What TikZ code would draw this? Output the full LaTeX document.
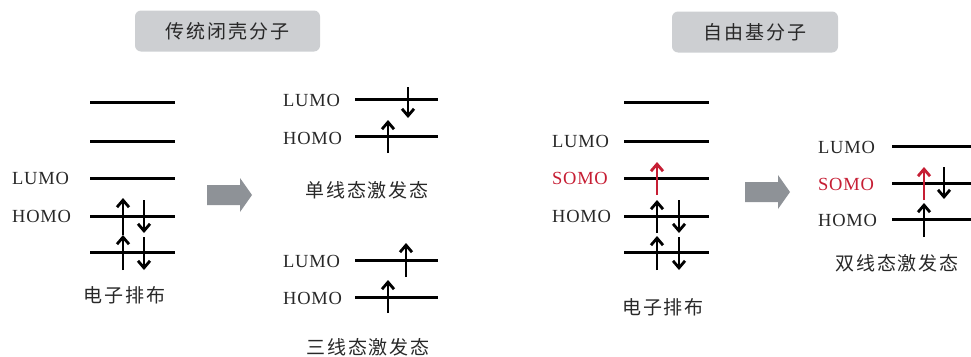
\documentclass[tikz,border=0pt]{standalone}
\usepackage{fontspec}
\setmainfont{Liberation Serif}
\newfontfamily\cjk{Noto Sans CJK SC}[LetterSpace=10]
\usetikzlibrary{arrows.meta}

\definecolor{txt}{RGB}{40,40,40}
\definecolor{somo}{RGB}{198,30,52}
\definecolor{boxgray}{RGB}{205,207,210}
\definecolor{arrowgray}{RGB}{142,146,151}

\tikzset{
  level/.style={line width=3pt},
  spin/.style={line width=2.6pt,-{Straight Barb[length=7pt,width=12pt,line width=2.8pt]}},
  redspin/.style={spin,draw=somo},
  orb/.style={anchor=west,inner sep=0pt,text=txt,
    font=\fontsize{18.5}{18.5}\selectfont\addfontfeature{LetterSpace=4}},
  caption/.style={inner sep=0pt,text=txt,font=\cjk\fontsize{19}{19}\selectfont},
  titlebox/.style={caption,fill=boxgray,rounded corners=6pt,minimum height=41pt},
  pics/shiftarrow/.style={code={
    \fill[arrowgray] (0,-10) -- (33,-10) -- (33,-17) -- (45,0) -- (33,17)
      -- (33,10) -- (0,10) -- cycle;}}
}

\begin{document}
\begin{tikzpicture}[x=1pt,y=-1pt]
\useasboundingbox (0,0) rectangle (971,356);

% ---------- titles ----------
\node[titlebox,minimum width=185pt] (t1) at (227.5,31) {传统闭壳分子};
\node[titlebox,minimum width=166pt] (t2) at (755,32) {自由基分子};

% ---------- closed-shell ground state ----------
\foreach \y in {102,141,178,216,252} \draw[level] (90,\y) -- (175,\y);
\node[orb] (a-lumo) at (12,178) {LUMO};
\node[orb] (a-homo) at (12,216) {HOMO};
\draw[spin] (123,235) -- (123,198);
\draw[spin] (144,200) -- (144,233);
\draw[spin] (123,270) -- (123,235);
\draw[spin] (144,237) -- (144,270);
\node[caption] (a-cap) at (124.5,295) {电子排布};

\pic at (207,195) {shiftarrow};

% ---------- singlet excited state ----------
\draw[level] (355,99) -- (438,99);
\draw[level] (355,136) -- (438,136);
\node[orb] (s-lumo) at (283,100) {LUMO};
\node[orb] (s-homo) at (283,138) {HOMO};
\draw[spin] (408,87) -- (408,118);
\draw[spin] (388,153) -- (388,120);
\node[caption] (s-cap) at (367,190) {单线态激发态};

% ---------- triplet excited state ----------
\draw[level] (355,260) -- (438,260);
\draw[level] (355,297) -- (438,297);
\node[orb] (tr-lumo) at (283,261) {LUMO};
\node[orb] (tr-homo) at (283,298) {HOMO};
\draw[spin] (406,277) -- (406,243);
\draw[spin] (388,313) -- (388,280);
\node[caption] (tr-cap) at (368,347) {三线态激发态};

% ---------- radical ground state ----------
\foreach \y in {102,141,178,216,252} \draw[level] (624,\y) -- (709,\y);
\node[orb] (r-lumo) at (552,141) {LUMO};
\node[orb,text=somo] (r-somo) at (552,178) {SOMO};
\node[orb] (r-homo) at (552,216) {HOMO};
\draw[redspin] (657,195) -- (657,162);
\draw[spin] (657,233) -- (657,200);
\draw[spin] (679,200) -- (679,233);
\draw[spin] (657,270) -- (657,236);
\draw[spin] (679,237) -- (679,270);
\node[caption] (r-cap) at (663,307) {电子排布};

\pic at (745,192) {shiftarrow};

% ---------- doublet excited state ----------
\draw[level] (892,146) -- (971,146);
\draw[level] (892,183) -- (971,183);
\draw[level] (892,219) -- (971,219);
\node[orb] (d-lumo) at (818,147) {LUMO};
\node[orb,text=somo] (d-somo) at (818,184) {SOMO};
\node[orb] (d-homo) at (818,220) {HOMO};
\draw[redspin] (924,200) -- (924,167);
\draw[spin] (944,167) -- (944,199);
\draw[spin] (924,237) -- (924,203);
\node[caption] (d-cap) at (897,263) {双线态激发态};
\end{tikzpicture}
\end{document}
